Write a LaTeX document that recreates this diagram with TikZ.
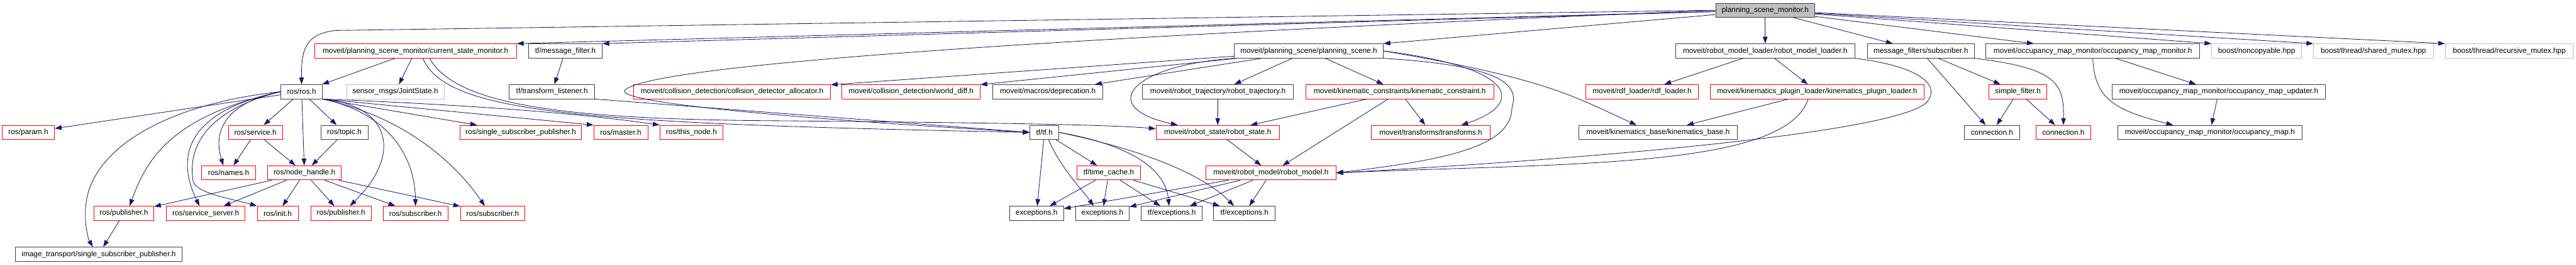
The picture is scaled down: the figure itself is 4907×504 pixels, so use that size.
\documentclass[tikz,border=0pt]{standalone}
\usepackage{fontspec}
\setmainfont{Liberation Sans}
\usetikzlibrary{arrows.meta,positioning}
\definecolor{edgeblue}{RGB}{25,25,112}
\definecolor{boxgray}{RGB}{191,191,191}
\definecolor{boxdark}{RGB}{64,64,64}

\begin{document}
\begin{tikzpicture}[x=1pt, y=1pt,
    incl/.style={draw=boxdark, line width=1pt, fill=white, minimum height=27pt,
                 inner xsep=4pt, inner ysep=0pt, font=\fontsize{14.2}{16}\selectfont},
    inclred/.style={incl, draw=red},
    inclext/.style={incl, draw=boxgray},
    inclroot/.style={incl, fill=boxgray},
    dep/.style={-{Triangle[length=13pt,width=9pt]}, edgeblue, line width=1pt}
  ]
  \useasboundingbox (0,0) rectangle (4907,-504);

  % row 0
  \node[inclroot, minimum width=189pt] (psm) at (3362.5,-19.5) {planning\_scene\_monitor.h};

  % row 1
  \node[inclred, minimum width=385pt] (csm)    at (791.5,-97)  {moveit/planning\_scene\_monitor/current\_state\_monitor.h};
  \node[incl,    minimum width=140pt] (mfilt)  at (1077,-97)   {tf/message\_filter.h};
  \node[incl,    minimum width=284pt] (pscene) at (2493,-97)   {moveit/planning\_scene/planning\_scene.h};
  \node[incl,    minimum width=341pt] (rml)    at (3362.5,-97) {moveit/robot\_model\_loader/robot\_model\_loader.h};
  \node[incl,    minimum width=204pt] (mfsub)  at (3659,-97)   {message\_filters/subscriber.h};
  \node[incl,    minimum width=407pt] (omm)    at (3986.5,-97) {moveit/occupancy\_map\_monitor/occupancy\_map\_monitor.h};
  \node[inclext, minimum width=171pt] (noncp)  at (4298.5,-97) {boost/noncopyable.hpp};
  \node[inclext, minimum width=228pt] (shmtx)  at (4521,-97)   {boost/thread/shared\_mutex.hpp};
  \node[inclext, minimum width=244pt] (recmtx) at (4780,-97)   {boost/thread/recursive\_mutex.hpp};

  % row 2
  \node[incl,    minimum width=79pt]  (rosh)    at (574.5,-174.5)  {ros/ros.h};
  \node[inclext, minimum width=186pt] (jstate)  at (753,-174.5)    {sensor\_msgs/JointState.h};
  \node[incl,    minimum width=163pt] (tlist)   at (1051.5,-174.5) {tf/transform\_listener.h};
  \node[inclred, minimum width=375pt] (cdalloc) at (1394.5,-174.5) {moveit/collision\_detection/collision\_detector\_allocator.h};
  \node[inclred, minimum width=263pt] (wdiff)   at (1735.5,-174.5) {moveit/collision\_detection/world\_diff.h};
  \node[incl,    minimum width=210pt] (deprec)  at (1996,-174.5)   {moveit/macros/deprecation.h};
  \node[incl,    minimum width=288pt] (rtraj)   at (2320,-174.5)   {moveit/robot\_trajectory/robot\_trajectory.h};
  \node[inclred, minimum width=359pt] (kconst)  at (2666.5,-174.5) {moveit/kinematic\_constraints/kinematic\_constraint.h};
  \node[inclred, minimum width=214pt] (rdfl)    at (3128,-174.5)   {moveit/rdf\_loader/rdf\_loader.h};
  \node[inclred, minimum width=407pt] (kpl)     at (3461.5,-174.5) {moveit/kinematics\_plugin\_loader/kinematics\_plugin\_loader.h};
  \node[inclred, minimum width=110pt] (sfilt)   at (3844,-174.5)   {simple\_filter.h};
  \node[incl,    minimum width=407pt] (omupd)   at (4226.5,-174.5) {moveit/occupancy\_map\_monitor/occupancy\_map\_updater.h};

  % row 3
  \node[inclred, minimum width=100pt] (param)    at (54,-252)     {ros/param.h};
  \node[inclred, minimum width=103pt] (service)  at (486.5,-252)  {ros/service.h};
  \node[incl,    minimum width=90pt]  (topic)    at (656,-252)    {ros/topic.h};
  \node[inclred, minimum width=232pt] (sspub)    at (992,-252)    {ros/single\_subscriber\_publisher.h};
  \node[inclred, minimum width=103pt] (master)   at (1182.5,-252) {ros/master.h};
  \node[inclred, minimum width=120pt] (thisnode) at (1317,-252)   {ros/this\_node.h};
  \node[incl,    minimum width=55pt]  (tfh)      at (1989.5,-252) {tf/tf.h};
  \node[inclred, minimum width=235pt] (rstate)   at (2319.5,-252) {moveit/robot\_state/robot\_state.h};
  \node[inclred, minimum width=227pt] (transf)   at (2725.5,-252) {moveit/transforms/transforms.h};
  \node[incl,    minimum width=301pt] (kbase)    at (3158.5,-252) {moveit/kinematics\_base/kinematics\_base.h};
  \node[incl,    minimum width=105pt] (conn1)    at (3794.5,-252) {connection.h};
  \node[inclred, minimum width=105pt] (conn2)    at (3930.5,-252) {connection.h};
  \node[incl,    minimum width=351pt] (omap)     at (4209.5,-252) {moveit/occupancy\_map\_monitor/occupancy\_map.h};

  % row 4
  \node[inclred, minimum width=103pt] (names)   at (435.5,-329) {ros/names.h};
  \node[inclred, minimum width=140pt] (nhandle) at (580,-329)   {ros/node\_handle.h};
  \node[inclred, minimum width=122pt] (tcache)  at (2112,-329)  {tf/time\_cache.h};
  \node[inclred, minimum width=248pt] (rmodel)  at (2421,-329)  {moveit/robot\_model/robot\_model.h};

  % row 5
  \node[inclred, minimum width=114pt] (publ1)  at (236,-406)    {ros/publisher.h};
  \node[inclred, minimum width=150pt] (ssrv)   at (392,-406)    {ros/service\_server.h};
  \node[inclred, minimum width=78pt]  (init)   at (529,-406)    {ros/init.h};
  \node[inclred, minimum width=115pt] (publ2)  at (649.5,-406)  {ros/publisher.h};
  \node[inclred, minimum width=123pt] (subs1)  at (791.5,-406)  {ros/subscriber.h};
  \node[inclred, minimum width=123pt] (subs2)  at (938.5,-406)  {ros/subscriber.h};
  \node[incl,    minimum width=103pt] (exc1)   at (1974.5,-406) {exceptions.h};
  \node[incl,    minimum width=102pt] (exc2)   at (2100,-406)   {exceptions.h};
  \node[incl,    minimum width=116pt] (tfexc1) at (2232,-406)   {tf/exceptions.h};
  \node[incl,    minimum width=117pt] (tfexc2) at (2370.5,-406) {tf/exceptions.h};

  % row 6
  \node[incl, minimum width=318pt] (itssp) at (188,-484) {image\_transport/single\_subscriber\_publisher.h};

  % planning_scene_monitor.h
  \draw[dep] (psm.west) -- (640,-58) .. controls (578,-64) and (574,-100) .. (rosh.north);
  \draw[dep] (psm) -- (csm.north east);
  \draw[dep] (psm) -- (mfilt.north east);
  \draw[dep] (psm) -- (pscene.north east);
  \draw[dep] (psm.west) .. controls (1800,-80) and (1230,-130) .. (1190,-172)
                        .. controls (1175,-195) and (1500,-225) .. (tfh.west);
  \draw[dep] (psm) -- (rml);
  \draw[dep] (psm) -- (mfsub);
  \draw[dep] (psm) -- (omm);
  \draw[dep] (psm) -- (noncp.north west);
  \draw[dep] (psm) -- (shmtx.north west);
  \draw[dep] (psm) -- (recmtx.north west);

  % current_state_monitor.h
  \draw[dep] (csm) -- (rosh);
  \draw[dep] (csm) -- (jstate);
  \draw[dep] ([xshift=14pt]csm.south) .. controls (850,-215) and (1100,-235) .. (tfh.west);
  \draw[dep] ([xshift=27pt]csm.south) .. controls (870,-205) and (1100,-228) .. (1500,-230)
                                      .. controls (1800,-233) and (2100,-236) .. ([yshift=7pt]rstate.west);
  \draw[dep] (mfilt) -- (tlist);
  \draw[dep] (tlist.south east) -- (tfh.west);

  % planning_scene.h
  \draw[dep] (pscene) -- (cdalloc);
  \draw[dep] (pscene) -- (wdiff);
  \draw[dep] (pscene) -- (deprec);
  \draw[dep] (pscene) -- (rtraj);
  \draw[dep] (pscene.south west) .. controls (2150,-125) and (2090,-205) .. ([xshift=-76pt]rstate.north);
  \draw[dep] (pscene) -- (kconst);
  \draw[dep] (pscene.east) .. controls (2900,-130) and (2900,-200) .. ([xshift=58pt]transf.north);
  \draw[dep] (pscene.south east) .. controls (2860,-125) and (2895,-160) .. (2880,-205)
                                 .. controls (2880,-280) and (2750,-305) .. (rmodel.east);
  \draw[dep] (pscene.east) .. controls (2950,-150) and (3000,-185) .. ([xshift=-41pt]kbase.north);
  \draw[dep] (rtraj) -- (rstate);
  \draw[dep] (kconst) -- (rstate);
  \draw[dep] (kconst) -- (rmodel);
  \draw[dep] (kconst) -- (transf);
  \draw[dep] (rstate) -- (rmodel);

  % robot_model_loader.h
  \draw[dep] (rml) -- (rdfl);
  \draw[dep] (rml) -- (kpl);
  \draw[dep] (rml.south east) .. controls (3650,-125) and (3700,-160) .. (3670,-195)
                              .. controls (3600,-260) and (2900,-310) .. (rmodel.east);
  \draw[dep] (kpl) -- (kbase);
  \draw[dep] ([xshift=-17pt]kpl.south) .. controls (3400,-320) and (3000,-310) .. (rmodel.east);

  % message_filters
  \draw[dep] (mfsub) -- (conn1);
  \draw[dep] (mfsub) -- (sfilt);
  \draw[dep] (mfsub.south east) .. controls (3920,-130) and (3932,-160) .. (conn2.north);
  \draw[dep] (sfilt) -- (conn1);
  \draw[dep] (sfilt) -- (conn2);

  % occupancy map
  \draw[dep] (omm) -- (omupd);
  \draw[dep] (omm.south) .. controls (3990,-190) and (4030,-210) .. ([xshift=-70pt]omap.north);
  \draw[dep] (omupd) -- (omap);

  % ros/ros.h
  \draw[dep] (rosh) -- (param);
  \draw[dep] (rosh.west) .. controls (300,-200) and (180,-290) .. (165,-380)
                         .. controls (158,-420) and (168,-455) .. ([xshift=-11pt]itssp.north);
  \draw[dep] (rosh.west) .. controls (330,-220) and (280,-300) .. ([xshift=11pt]publ1.north);
  \draw[dep] (rosh.west) .. controls (340,-215) and (340,-310) .. ([xshift=-12pt]ssrv.north);
  \draw[dep] (rosh.west) .. controls (370,-215) and (360,-300) .. (368,-345)
                         .. controls (374,-368) and (440,-378) .. (init.north west);
  \draw[dep] (rosh.west) .. controls (430,-195) and (405,-250) .. ([xshift=-10pt]names.north);
  \draw[dep] (rosh) -- (service);
  \draw[dep] (rosh) -- (nhandle);
  \draw[dep] (rosh) -- (topic);
  \draw[dep] (rosh.south east) .. controls (740,-200) and (770,-290) .. ([xshift=17pt]publ2.north);
  \draw[dep] (rosh.south east) .. controls (720,-210) and (790,-280) .. (subs1.north);
  \draw[dep] (rosh.south east) .. controls (760,-220) and (860,-300) .. ([xshift=-15pt]subs2.north);
  \draw[dep] (rosh.south east) -- (sspub);
  \draw[dep] (rosh.south east) -- (master.north west);
  \draw[dep] (rosh.south east) .. controls (900,-200) and (1100,-215) .. (thisnode.north west);

  % ros/node_handle.h
  \draw[dep] (nhandle) -- (publ1);
  \draw[dep] (nhandle) -- (ssrv);
  \draw[dep] (nhandle) -- (init);
  \draw[dep] (nhandle) -- (publ2);
  \draw[dep] (nhandle) -- (subs1);
  \draw[dep] (nhandle) -- (subs2);
  \draw[dep] (service) -- (names);
  \draw[dep] (service) -- (nhandle);
  \draw[dep] (topic) -- (nhandle);
  \draw[dep] (publ1) -- (itssp);

  % tf/tf.h
  \draw[dep] (tfh) -- (exc1);
  \draw[dep] ([xshift=8pt]tfh.south) .. controls (2020,-320) and (2065,-365) .. ([xshift=-17pt]exc2.north);
  \draw[dep] (tfh) -- (tcache);
  \draw[dep] (tfh.east) .. controls (2150,-275) and (2220,-320) .. ([xshift=-5pt]tfexc1.north);
  \draw[dep] (tfh.east) .. controls (2200,-290) and (2300,-340) .. ([xshift=-20pt]tfexc2.north);
  \draw[dep] (tcache) -- (exc1);
  \draw[dep] (tcache) -- (exc2);
  \draw[dep] (tcache) -- (tfexc1);
  \draw[dep] (tcache) -- (tfexc2);
  \draw[dep] (rmodel) -- (exc1);
  \draw[dep] (rmodel) -- (exc2);
  \draw[dep] (rmodel) -- (tfexc1);
  \draw[dep] (rmodel) -- (tfexc2);
\end{tikzpicture}
\end{document}
